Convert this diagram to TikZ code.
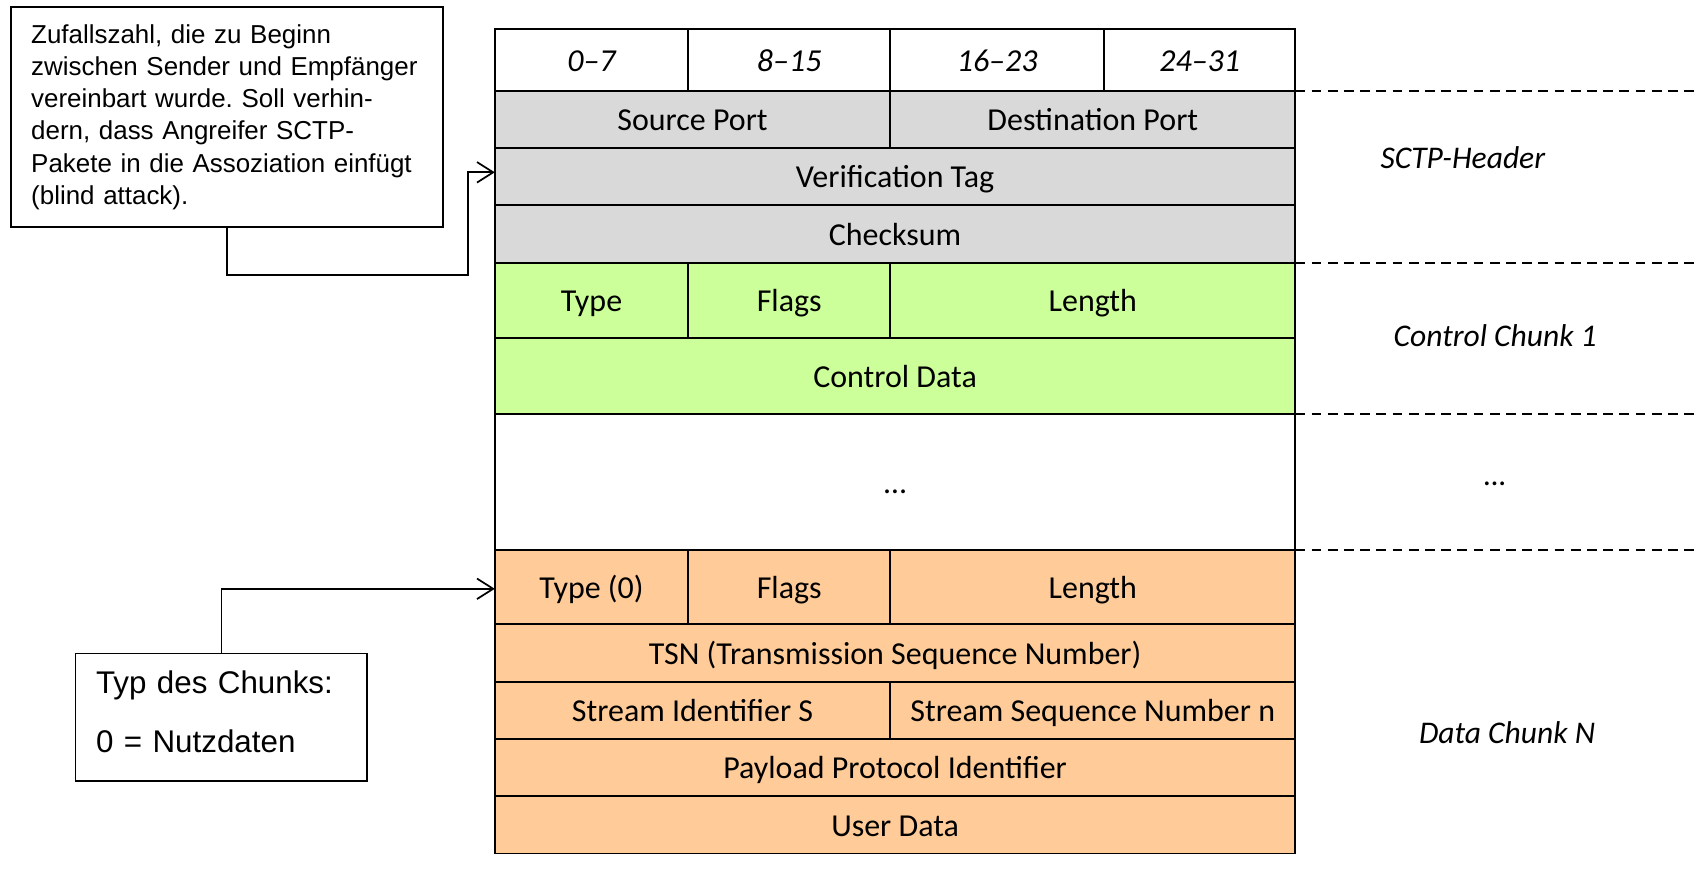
\documentclass[tikz,border=0pt]{standalone}
\usepackage{fontspec}
\setmainfont{Carlito}
\newfontfamily\notefont{Liberation Sans}
\usetikzlibrary{arrows.meta}

\definecolor{hdrgray}{HTML}{D9D9D9}
\definecolor{ctrlgreen}{HTML}{CCFF99}
\definecolor{dataorange}{HTML}{FFCC99}

\tikzset{
  field/.style={draw, line width=1.8pt, inner sep=0pt, outer sep=0pt, anchor=north west,
    text height=26pt, text depth=5pt, font=\fontsize{29.6}{35}\selectfont},
  note/.style={draw, line width=1.8pt, anchor=north west, align=left, inner xsep=19pt, inner ysep=0pt},
  conn/.style={line width=1.6pt, -{Straight Barb[length=15pt,width=19pt,line width=1.6pt]}},
  sep/.style={line width=1.8pt, dash pattern=on 9pt off 6pt},
  side/.style={font=\fontsize{29.2}{35}\selectfont\itshape},
}

\begin{document}
\frenchspacing
\begin{tikzpicture}[x=1pt,y=-1pt]
  \useasboundingbox (0,0) rectangle (1568,820);

  % bit positions
  \node[field, minimum width=179pt, minimum height=57pt] (b0) at (458,27)  {\itshape 0–7};
  \node[field, minimum width=187pt, minimum height=57pt] (b1) at (637,27)  {\itshape 8–15};
  \node[field, minimum width=198pt, minimum height=57pt] (b2) at (824,27)  {\itshape 16–23};
  \node[field, minimum width=177pt, minimum height=57pt] (b3) at (1022,27) {\itshape 24–31};

  % common header
  \node[field, fill=hdrgray, minimum width=366pt, minimum height=53pt] (sport) at (458,84) {Source Port};
  \node[field, fill=hdrgray, minimum width=375pt, minimum height=53pt] (dport) at (824,84) {Destination Port};
  \node[field, fill=hdrgray, minimum width=741pt, minimum height=53pt] (vtag)  at (458,137) {Verification Tag};
  \node[field, fill=hdrgray, minimum width=741pt, minimum height=53pt] (chk)   at (458,190) {Checksum};

  % control chunk
  \node[field, fill=ctrlgreen, minimum width=179pt, minimum height=70pt] (ctype)  at (458,243) {Type};
  \node[field, fill=ctrlgreen, minimum width=187pt, minimum height=70pt] (cflags) at (637,243) {Flags};
  \node[field, fill=ctrlgreen, minimum width=375pt, minimum height=70pt] (clen)   at (824,243) {Length};
  \node[field, fill=ctrlgreen, minimum width=741pt, minimum height=70pt] (cdata)  at (458,313) {Control Data};

  \node[field, minimum width=741pt, minimum height=126pt] (dots) at (458,383) {…};

  % data chunk
  \node[field, fill=dataorange, minimum width=179pt, minimum height=69pt] (type0)  at (458,509) {Type (0)};
  \node[field, fill=dataorange, minimum width=187pt, minimum height=69pt] (dflags) at (637,509) {Flags};
  \node[field, fill=dataorange, minimum width=375pt, minimum height=69pt] (dlen)   at (824,509) {Length};
  \node[field, fill=dataorange, minimum width=741pt, minimum height=53pt] (tsn)    at (458,578) {TSN (Transmission Sequence Number)};
  \node[field, fill=dataorange, minimum width=366pt, minimum height=53pt] (sid)    at (458,631) {Stream Identifier S};
  \node[field, fill=dataorange, minimum width=375pt, minimum height=53pt] (ssn)    at (824,631) {Stream Sequence Number n};
  \node[field, fill=dataorange, minimum width=741pt, minimum height=53pt] (ppid)   at (458,684) {Payload Protocol Identifier};
  \node[field, fill=dataorange, minimum width=741pt, minimum height=53pt] (udata)  at (458,737) {User Data};

  % section borders and names
  \coordinate (rim) at (1568,0);
  \draw[sep] (b3.south east)    -- (b3.south east -| rim);
  \draw[sep] (chk.south east)   -- (chk.south east -| rim);
  \draw[sep] (cdata.south east) -- (cdata.south east -| rim);
  \draw[sep] (dots.south east)  -- (dots.south east -| rim);

  \node[side] (lhdr)  at (1354,146) {SCTP-Header};
  \node[side] (lctrl) at (1384,311) {Control Chunk 1};
  \node[side] (ldots) at (1384,448) {…};
  \node[side] (ldata) at (1395,678) {Data Chunk N};

  % notes
  \node[note, font=\notefont\fontsize{24}{29.8}\selectfont, text width=362pt, minimum height=203pt] (note1) at (9,6)
    {Zufallszahl, die zu Beginn\\zwischen Sender und Empfänger\\vereinbart wurde. Soll verhin-\\dern, dass Angreifer SCTP-\\Pakete in die Assoziation einfügt\\(blind attack).};
  \node[note, font=\notefont\fontsize{29}{55}\selectfont, text width=232pt, minimum height=118pt] (note2) at (69,604)
    {Typ des Chunks:\\0 = Nutzdaten\rule[-10pt]{0pt}{10pt}};

  \draw[conn] (note1.south) -- ++(0,44) -| ([xshift=-25pt,yshift=4pt]vtag.west) -- ([yshift=4pt]vtag.west);
  \draw[conn] (note2.north) |- ([yshift=-1.5pt]type0.west);
\end{tikzpicture}
\end{document}
